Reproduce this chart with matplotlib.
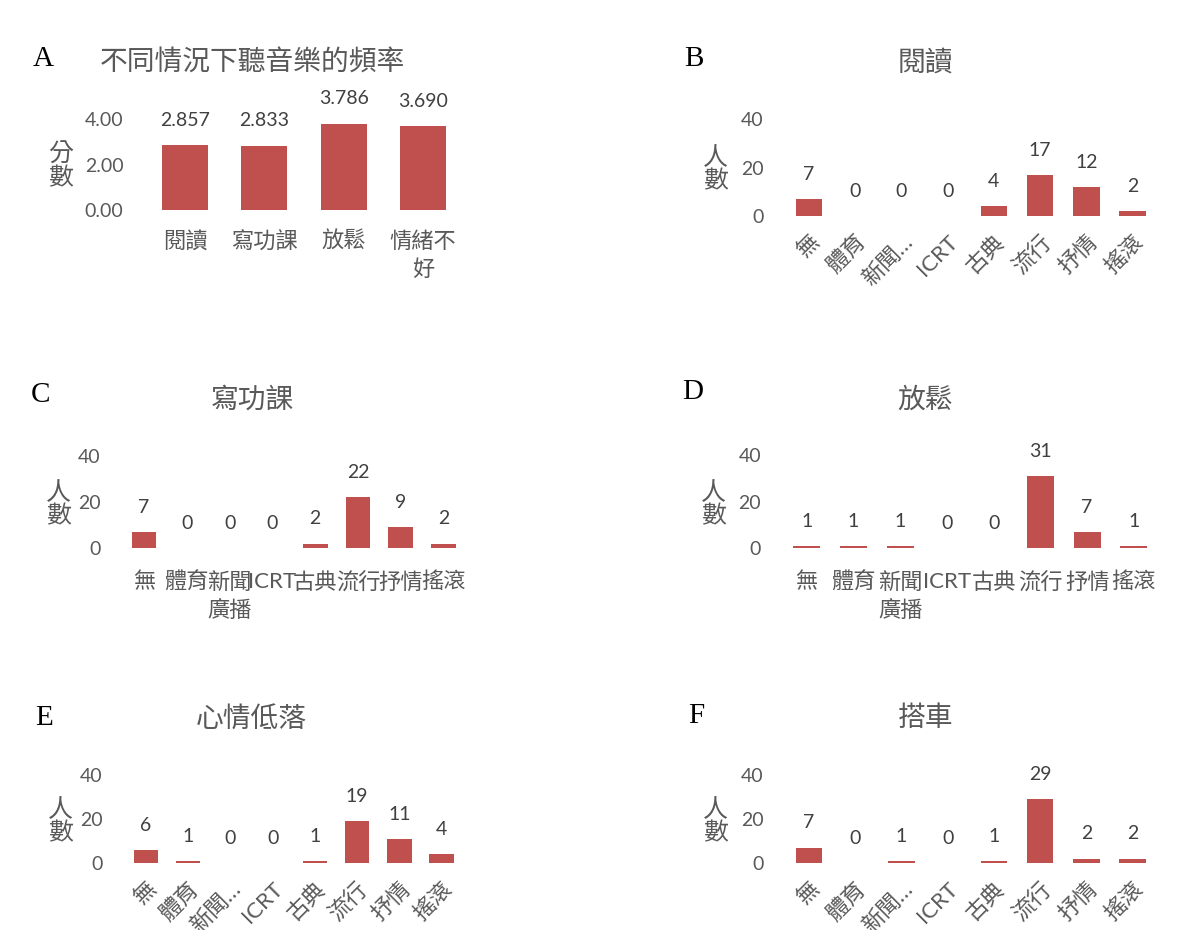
import matplotlib
matplotlib.use("Agg")
import matplotlib.pyplot as plt

plt.rcParams['font.family'] = ['Lato', 'Noto Sans CJK TC']

# ---- data ----
situations = ["閱讀", "寫功課", "放鬆", "情緒不\n好"]
scores = [2.857, 2.833, 3.786, 3.690]

genres_wrap = ["無", "體育", "新聞\n廣播", "ICRT", "古典", "流行", "抒情", "搖滾"]
genres_short = ["無", "體育", "新聞…", "ICRT", "古典", "流行", "抒情", "搖滾"]

reading = [7, 0, 0, 0, 4, 17, 12, 2]
homework = [7, 0, 0, 0, 2, 22, 9, 2]
relax = [1, 1, 1, 0, 0, 31, 7, 1]
low_mood = [6, 1, 0, 0, 1, 19, 11, 4]
commute = [7, 0, 1, 0, 1, 29, 2, 2]

BAR = "#C0504D"
GREY = "#595959"
DARK = "#404040"

W, H = 1189, 930
fig = plt.figure(figsize=(W / 100, H / 100), dpi=100)


def px_axes(left, right, top, bottom):
    # axes from pixel box (origin top-left)
    return fig.add_axes([left / W, 1 - bottom / H, (right - left) / W, (bottom - top) / H])


def style(ax, ymax, yticks, fmt):
    ax.set_ylim(0, ymax)
    ax.set_yticks(yticks)
    ax.set_yticklabels([fmt.format(t) for t in yticks])
    for s in ax.spines.values():
        s.set_visible(False)
    ax.tick_params(axis='y', length=0, pad=16, labelsize=14, labelcolor=GREY)
    ax.tick_params(axis='x', length=0, labelsize=16, labelcolor=GREY)


def bars(ax, values, fmt):
    x = range(len(values))
    ax.bar(x, values, width=0.58, color=BAR)
    ax.set_xlim(-0.5, len(values) - 0.5)
    for xi, v in zip(x, values):
        ax.annotate(fmt.format(v), (xi, v), xytext=(0, 14), textcoords='offset points',
                    ha='center', va='baseline', fontsize=14, color=DARK,
                    annotation_clip=False)


# ---- A: overall frequency ----
axA = px_axes(145.5, 462.5, 119, 210)
bars(axA, scores, "{:.3f}")
style(axA, 4, [0, 2, 4], "{:.2f}")
axA.set_xticks(range(len(situations)))
axA.set_xticklabels(situations, linespacing=1.45)
axA.tick_params(axis='x', pad=15)

# ---- B-F: genre counts ----
panels = [
    ("B", "閱讀", reading, (786, 1155.6, 119.5, 216), True),
    ("C", "寫功課", homework, (122.6, 464.9, 455.6, 548.3), False),
    ("D", "放鬆", relax, (783.3, 1157.2, 455.4, 548.3), False),
    ("E", "心情低落", low_mood, (124.9, 462.6, 775, 863.3), True),
    ("F", "搭車", commute, (786, 1155.6, 774.6, 863.3), True),
]

for letter, title, counts, box, rotated in panels:
    ax = px_axes(*box)
    bars(ax, counts, "{:d}")
    style(ax, 40, [0, 20, 40], "{:d}")
    ax.set_xticks(range(len(counts)))
    if rotated:
        ax.set_xticklabels(genres_short, rotation=45, ha='right', va='top',
                           rotation_mode='anchor')
        ax.tick_params(axis='x', pad=11)
    else:
        ax.set_xticklabels(genres_wrap, linespacing=1.45)
        ax.tick_params(axis='x', pad=17)

# ---- titles, panel letters, y labels ----
titles = [
    ("不同情況下聽音樂的頻率", 252.5, 63),
    ("閱讀", 925.8, 63),
    ("寫功課", 252.5, 400),
    ("放鬆", 925, 400),
    ("心情低落", 251.7, 720),
    ("搭車", 925, 718),
]
for t, x, y in titles:
    fig.text(x / W, 1 - y / H, t, ha='center', va='center', fontsize=20, color=GREY)

letters = [("A", 43, 59), ("B", 694, 59), ("C", 41, 395),
           ("D", 693, 392), ("E", 44, 718), ("F", 696, 716)]
for t, x, y in letters:
    fig.text(x / W, 1 - y / H, t, ha='center', va='center', fontsize=21,
             color='black', family='Liberation Serif')

ylabels = [("分\n數", 60.8, 166), ("人\n數", 715.8, 169.5), ("人\n數", 58.3, 504.5),
           ("人\n數", 713.8, 504.5), ("人\n數", 60.5, 821), ("人\n數", 715.8, 821)]
for t, x, y in ylabels:
    fig.text(x / W, 1 - y / H, t, ha='center', va='center', fontsize=18,
             color=GREY, linespacing=1.0)

fig.savefig("out.png", dpi=100, facecolor='white')
